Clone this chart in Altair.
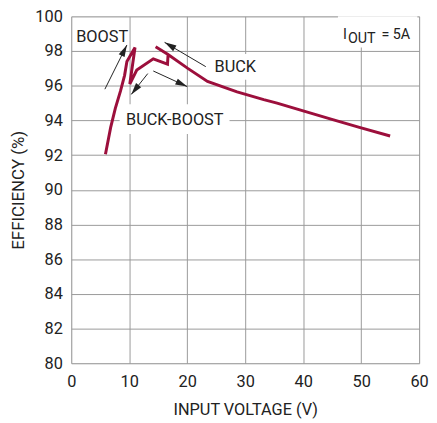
import math
import altair as alt
import pandas as pd

# ---- data ----
curve_x = [5.9, 6.8, 7.6, 8.5, 9.2, 9.6, 11.0, 10.1, 11.3, 14.15, 16.6, 16.7, 14.55,
           16.7, 20.1, 23.5, 28.6, 33.2, 35.5, 40.0, 45.1, 49.7, 55.0]
curve_y = [92.05, 93.6, 94.7, 95.7, 96.6, 97.4, 98.2, 96.1, 96.9, 97.55, 97.25, 97.8, 98.25,
           97.8, 97.0, 96.25, 95.65, 95.2, 95.0, 94.55, 94.05, 93.6, 93.1]

arrow_x1 = [5.8, 23.2, 13.2, 14.15]
arrow_y1 = [95.8, 97.1, 96.7, 96.85]
arrow_x2 = [9.6, 16.1, 10.35, 20.0]
arrow_y2 = [98.35, 98.5, 95.5, 95.95]

ann_text = ["BOOST", "BUCK", "BUCK-BOOST"]
ann_x = [0.85, 28.3, 17.85]
ann_y = [98.52, 96.77, 93.73]
ann_align = ["left", "center", "center"]

box_x1 = [24.2, 8.35, 46.0]
box_x2 = [32.4, 27.3, 59.7]
box_y1 = [97.83, 94.93, 100.0]
box_y2 = [96.35, 93.22, 98.2]

iout_text = ["I", "OUT", "= 5A"]
iout_x = [46.87, 47.72, 58.46]
iout_y = [98.71, 98.48, 98.71]
iout_align = ["left", "left", "right"]

x_ticks = [0, 10, 20, 30, 40, 50, 60]
y_ticks = [80, 82, 84, 86, 88, 90, 92, 94, 96, 98, 100]

W, H = 352, 351
FONT = "Roboto"
LINE_COLOR = "#9c0f3c"

xs = alt.Scale(domain=[0, 60], nice=False, zero=False)
ys = alt.Scale(domain=[80, 100], nice=False, zero=False)

x_axis = alt.Axis(values=x_ticks, title="INPUT VOLTAGE (V)", ticks=False, domain=False,
                  labelPadding=11, labelFontSize=16.5, labelFont=FONT, labelColor="#222",
                  labelOverlap=False, labelFlush=False,
                  titleFont=FONT, titleFontSize=16.5, titleFontWeight="normal", titleColor="#222",
                  titleY=52, titleBaseline="alphabetic",
                  grid=True, gridColor="#999", gridWidth=1)
y_axis = alt.Axis(values=y_ticks, title="EFFICIENCY (%)", ticks=False, domain=False,
                  labelPadding=9, labelFontSize=16.5, labelFont=FONT, labelColor="#222",
                  labelOverlap=False, labelFlush=False, labelBound=False,
                  titleFont=FONT, titleFontSize=17, titleFontWeight="normal", titleColor="#222",
                  titleX=-48, titleBaseline="alphabetic",
                  grid=True, gridColor="#999", gridWidth=1)

X = lambda f="x": alt.X(f"{f}:Q", scale=xs, axis=x_axis)
Y = lambda f="y": alt.Y(f"{f}:Q", scale=ys, axis=y_axis)

curve = pd.DataFrame({"x": curve_x, "y": curve_y, "i": list(range(len(curve_x)))})

SIZE = 144
r = math.sqrt(SIZE) / 2
heads = []
for x1, y1, x2, y2 in zip(arrow_x1, arrow_y1, arrow_x2, arrow_y2):
    dxp = (x2 - x1) * W / 60
    dyp = -(y2 - y1) * H / 20
    L = math.hypot(dxp, dyp)
    ang = math.degrees(math.atan2(dxp, -dyp)) % 360
    cx = x2 - (dxp / L) * r * 60 / W
    cy = y2 + (dyp / L) * r * 20 / H
    heads.append({"x": cx, "y": cy, "angle": ang})
heads = pd.DataFrame(heads)
arrows = pd.DataFrame({"x": arrow_x1, "y": arrow_y1, "x2": arrow_x2, "y2": arrow_y2})

boxes = pd.DataFrame({"x": box_x1, "x2": box_x2, "y": box_y1, "y2": box_y2})
ann = pd.DataFrame({"x": ann_x, "y": ann_y, "t": ann_text, "a": ann_align})
iout = pd.DataFrame({"x": iout_x, "y": iout_y, "t": iout_text, "a": iout_align})

base_line = alt.Chart(curve).mark_line(color=LINE_COLOR, strokeWidth=3, strokeJoin="miter").encode(
    x=X(), y=Y(), order="i:Q")

box_layer = alt.Chart(boxes).mark_rect(color="white").encode(
    x=X(), x2="x2:Q", y=Y(), y2="y2:Q")

arrow_layer = alt.Chart(arrows).mark_rule(color="#222", strokeWidth=1).encode(
    x=X(), y=Y(), x2="x2:Q", y2="y2:Q")

head_layer = alt.Chart(heads).mark_point(
    shape="M0,-1L0.55,1L-0.55,1Z", filled=True, color="#222", opacity=1, size=SIZE
).encode(x=X(), y=Y(), angle=alt.Angle("angle:Q", scale=None))

ann_layers = []
for align in ["left", "center", "right"]:
    sub = ann[ann.a == align]
    if len(sub):
        ann_layers.append(alt.Chart(sub).mark_text(
            font=FONT, fontSize=16.5, color="#222", align=align, baseline="alphabetic"
        ).encode(x=X(), y=Y(), text="t:N"))
    sub = iout[iout.a == align]
    if len(sub):
        ann_layers.append(alt.Chart(sub).mark_text(
            font=FONT, fontSize=14.5, color="#222", align=align, baseline="alphabetic"
        ).encode(x=X(), y=Y(), text="t:N"))

chart = alt.layer(box_layer, base_line, arrow_layer, head_layer, *ann_layers).properties(
    width=W, height=H,
    autosize=alt.AutoSizeParams(type="none"),
    padding={"left": 64, "top": 6, "right": 10, "bottom": 56},
).configure_view(stroke="#333", strokeWidth=1.5).configure_axis(
    labelOverlap=False).configure(background="white")

chart.save("out.html", embed_options={"renderer": "svg", "actions": False})
